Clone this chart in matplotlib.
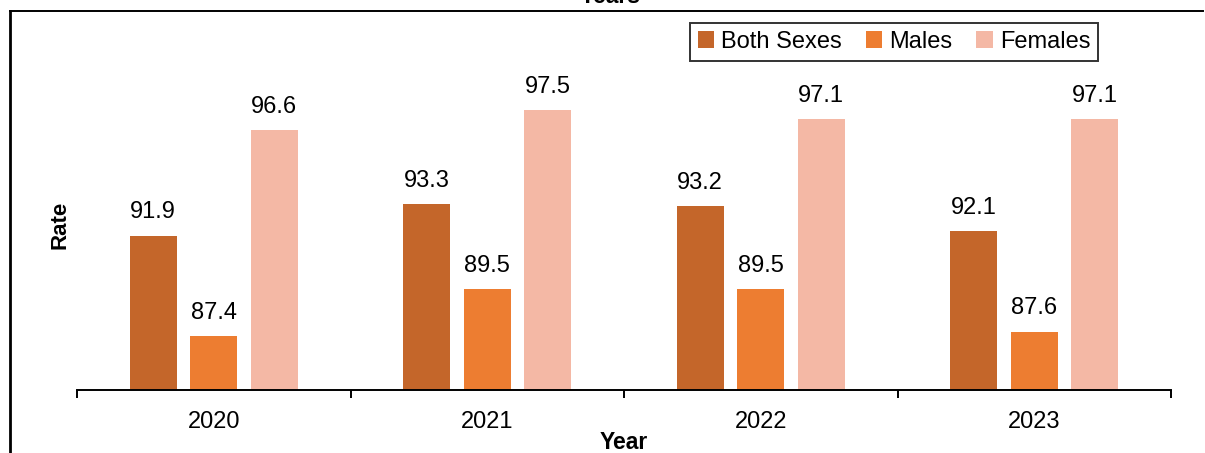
import matplotlib
matplotlib.use("Agg")
import matplotlib.pyplot as plt
from matplotlib.lines import Line2D
import numpy as np

plt.rcParams['font.family'] = ['Liberation Sans', 'DejaVu Sans']

years = ["2020", "2021", "2022", "2023"]
series_names = ["Both Sexes", "Males", "Females"]
both_sexes = [91.9, 93.3, 93.2, 92.1]
males = [87.4, 89.5, 89.5, 87.6]
females = [96.6, 97.5, 97.1, 97.1]
colors = ["#C4662A", "#ED7D31", "#F4B8A5"]

W, H = 1205, 453
fig = plt.figure(figsize=(W / 100, H / 100), dpi=100)

ax_left, ax_right = 77, 1171
ax_bottom, ax_top = 390, 54.3
ax = fig.add_axes([ax_left / W, 1 - ax_bottom / H, (ax_right - ax_left) / W, (ax_bottom - ax_top) / H])

x = np.arange(len(years))
bw = 0.172
step = 0.221
fs = 17
for i, (vals, name, c) in enumerate(zip([both_sexes, males, females], series_names, colors)):
    bars = ax.bar(x + (i - 1) * step, vals, width=bw, color=c, label=name, zorder=2)
    for b, v in zip(bars, vals):
        ax.annotate(f"{v:.1f}", (b.get_x() + b.get_width() / 2, v), xytext=(0, 9),
                    textcoords="offset points", ha="center", va="bottom", fontsize=fs)

ax.set_xlim(-0.5, len(years) - 0.5)
ax.set_ylim(85, 100)
ax.set_yticks([])
for s in ["top", "right", "left"]:
    ax.spines[s].set_visible(False)
ax.spines["bottom"].set_linewidth(1.4)
ax.set_xticks(x)
ax.set_xticklabels(years, fontsize=fs)
ax.tick_params(axis="x", which="major", length=0, pad=15)
ax.set_xticks(np.arange(-0.5, len(years)), minor=True)
ax.tick_params(axis="x", which="minor", length=6, width=1.4, direction="out")

ax.set_xlabel("Year", fontsize=16.5, fontweight="bold", labelpad=-1)
fig.text(60 / W, 1 - 225 / H, "Rate", rotation=90, fontsize=16, fontweight="bold",
         ha="center", va="center")
fig.text(610 / W, 1 - 3 / H, "Years", fontsize=16.5, fontweight="bold", ha="center", va="baseline")

leg = ax.legend(loc="upper right", bbox_to_anchor=(1098 / W, 1 - 23 / H),
                bbox_transform=fig.transFigure, ncol=3, fontsize=fs, frameon=True,
                fancybox=False, edgecolor="black", handlelength=0.7, handleheight=0.7,
                handletextpad=0.3, columnspacing=1.0, borderpad=0.33, borderaxespad=0)
leg.get_frame().set_linewidth(1.4)

# outer frame pieces
fig.add_artist(Line2D([10 / W, 10 / W], [1 - 11 / H, 0], transform=fig.transFigure,
                      color="black", linewidth=2.0))
fig.add_artist(Line2D([10 / W, 1203 / W], [1 - 11 / H, 1 - 11 / H], transform=fig.transFigure,
                      color="black", linewidth=1.4))

fig.savefig("out.png", dpi=100)
